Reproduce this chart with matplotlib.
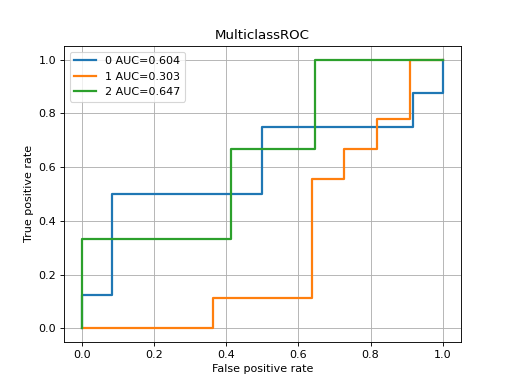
import matplotlib
matplotlib.use("Agg")
import matplotlib.pyplot as plt

labels = ["0", "1", "2"]
aucs = [0.604, 0.303, 0.647]

fpr0 = [0, 0, 1/12, 1/12, 6/12, 6/12, 11/12, 11/12, 1, 1]
tpr0 = [0, 1/8, 1/8, 4/8, 4/8, 6/8, 6/8, 7/8, 7/8, 1]

fpr1 = [0, 4/11, 4/11, 7/11, 7/11, 8/11, 8/11, 9/11, 9/11, 10/11, 10/11, 1]
tpr1 = [0, 0, 1/9, 1/9, 5/9, 5/9, 6/9, 6/9, 7/9, 7/9, 1, 1]

fpr2 = [0, 0, 7/17, 7/17, 11/17, 11/17, 1]
tpr2 = [0, 1/3, 1/3, 2/3, 2/3, 1, 1]

fprs = [fpr0, fpr1, fpr2]
tprs = [tpr0, tpr1, tpr2]

fig, ax = plt.subplots(figsize=(6.4, 4.8), dpi=80)
for lab, auc, f, t in zip(labels, aucs, fprs, tprs):
    ax.plot(f, t, lw=2, label=f"{lab} AUC={auc:.3f}")
ax.set_title("MulticlassROC")
ax.set_xlabel("False positive rate")
ax.set_ylabel("True positive rate")
ax.grid(True)
ax.legend(loc="upper left")
fig.savefig("out.png", dpi=80)
